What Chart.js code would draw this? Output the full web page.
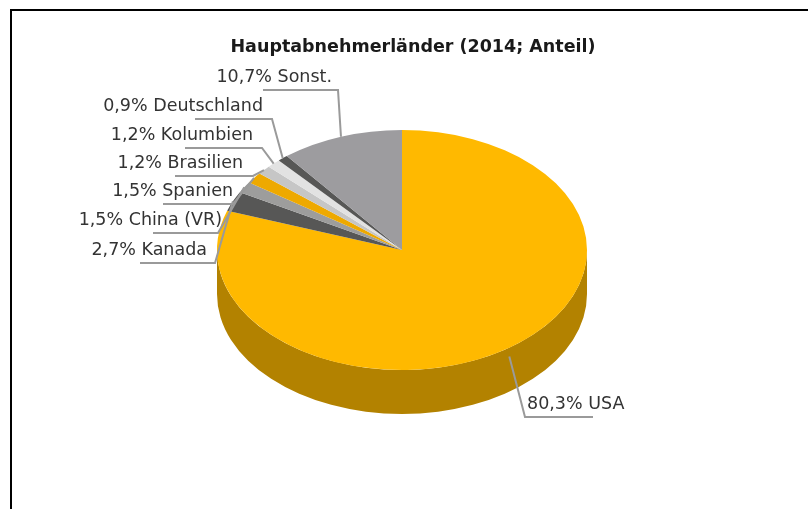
<!DOCTYPE html>
<html>
<head>
<meta charset="utf-8">
<script src="https://cdn.jsdelivr.net/npm/chart.js@4.4.1/dist/chart.umd.min.js"></script>
<style>
  html, body { margin: 0; padding: 0; background: #fff; }
  canvas { display: block; }
</style>
</head>
<body>
<canvas id="pie3d" width="808" height="509"></canvas>
<script>
// Data (share in %)
const countries = ['USA', 'Kanada', 'China (VR)', 'Spanien', 'Brasilien', 'Kolumbien', 'Deutschland', 'Sonst.'];
const shares = [80.3, 2.7, 1.5, 1.5, 1.2, 1.2, 0.9, 10.7];
const sliceColors = ['#ffb900', '#575756', '#9d9d9c', '#eea900', '#c6c6c6', '#e2e2e2', '#575756', '#9d9c9f'];
const titleText = 'Hauptabnehmerländer (2014; Anteil)';

// Label placement (text anchor, underline start, elbow), same order as countries
const labelLayout = [
    { x: 527, y: 404, align: 'left',  lineFrom: 525, lineTo: 593 },
    { x: 207, y: 250, align: 'right', lineFrom: 140, lineTo: 215 },
    { x: 222, y: 220, align: 'right', lineFrom: 153, lineTo: 218 },
    { x: 233, y: 191, align: 'right', lineFrom: 163, lineTo: 233 },
    { x: 243, y: 163, align: 'right', lineFrom: 175, lineTo: 253 },
    { x: 253, y: 135, align: 'right', lineFrom: 185, lineTo: 262 },
    { x: 263, y: 106, align: 'right', lineFrom: 195, lineTo: 272 },
    { x: 332, y: 77,  align: 'right', lineFrom: 263, lineTo: 338 }
];

const SQUASH = 120 / 185;   // vertical tilt of the pie
const DEPTH = 44;           // height of the side wall

function darken(hex, f) {
    const n = parseInt(hex.slice(1), 16);
    const r = Math.round(((n >> 16) & 255) * f);
    const g = Math.round(((n >> 8) & 255) * f);
    const b = Math.round((n & 255) * f);
    return `rgb(${r}, ${g}, ${b})`;
}

const pie3d = {
    id: 'pie3d',
    beforeDraw(chart) {
        const ctx = chart.ctx;
        ctx.save();
        ctx.fillStyle = '#fff';
        ctx.fillRect(0, 0, chart.width, chart.height);
        // frame
        ctx.strokeStyle = '#000';
        ctx.lineWidth = 2;
        ctx.beginPath();
        ctx.moveTo(chart.width, 10);
        ctx.lineTo(11, 10);
        ctx.lineTo(11, chart.height);
        ctx.stroke();
        // title
        ctx.fillStyle = '#1a1a1a';
        ctx.font = 'bold 17.5px "DejaVu Sans"';
        ctx.textAlign = 'center';
        ctx.textBaseline = 'middle';
        ctx.fillText(titleText, 413, 47);
        ctx.restore();
    },
    beforeDatasetsDraw(chart) {
        const ctx = chart.ctx;
        const arcs = chart.getDatasetMeta(0).data;
        const cx = arcs[0].x, cy = arcs[0].y;
        const rx = arcs[0].outerRadius, ry = rx * SQUASH;
        // side walls: only the front half (0..PI) is visible
        arcs.forEach((arc, i) => {
            const a1 = Math.max(arc.startAngle, 0);
            const a2 = Math.min(arc.endAngle, Math.PI);
            if (a2 <= a1) return;
            ctx.save();
            ctx.fillStyle = darken(sliceColors[i], 0.70);
            ctx.beginPath();
            ctx.ellipse(cx, cy, rx, ry, 0, a1, a2);
            ctx.ellipse(cx, cy + DEPTH, rx, ry, 0, a2, a1, true);
            ctx.closePath();
            ctx.fill();
            ctx.restore();
        });
        ctx.save();
        ctx.translate(cx, cy);
        ctx.scale(1, SQUASH);
        ctx.translate(-cx, -cy);
    },
    afterDatasetsDraw(chart) {
        const ctx = chart.ctx;
        ctx.restore();
        const arcs = chart.getDatasetMeta(0).data;
        ctx.save();
        ctx.font = '17.5px "DejaVu Sans"';
        ctx.textBaseline = 'middle';
        arcs.forEach((arc, i) => {
            const L = labelLayout[i];
            const mid = (arc.startAngle + arc.endAngle) / 2;
            let ax = arc.x + Math.cos(mid) * arc.outerRadius;
            let ay = arc.y + Math.sin(mid) * arc.outerRadius * SQUASH;
            if (Math.sin(mid) > 0) ay += DEPTH * 0.2;
            const uy = L.y + 13;
            const elbow = L.align === 'left' ? L.lineFrom : L.lineTo;
            ctx.strokeStyle = '#9a9a9a';
            ctx.lineWidth = 2;
            ctx.beginPath();
            ctx.moveTo(L.align === 'left' ? L.lineTo : L.lineFrom, uy);
            ctx.lineTo(elbow, uy);
            ctx.lineTo(ax, ay);
            ctx.stroke();
            const val = shares[i].toFixed(1).replace('.', ',');
            ctx.fillStyle = '#333';
            ctx.textAlign = L.align;
            ctx.fillText(`${val}% ${countries[i]}`, L.x, L.y);
        });
        ctx.restore();
    }
};

const pieChart = new Chart(document.getElementById('pie3d'), {
    type: 'pie',
    data: {
        labels: countries,
        datasets: [{
            data: shares,
            backgroundColor: sliceColors,
            borderWidth: 0
        }]
    },
    options: {
        responsive: false,
        animation: false,
        events: [],
        layout: {
            padding: { left: 217, right: 221, top: 65, bottom: 74 }
        },
        plugins: {
            legend: { display: false },
            title: { display: false },
            tooltip: { enabled: false }
        }
    },
    plugins: [pie3d]
});
</script>
</body>
</html>
